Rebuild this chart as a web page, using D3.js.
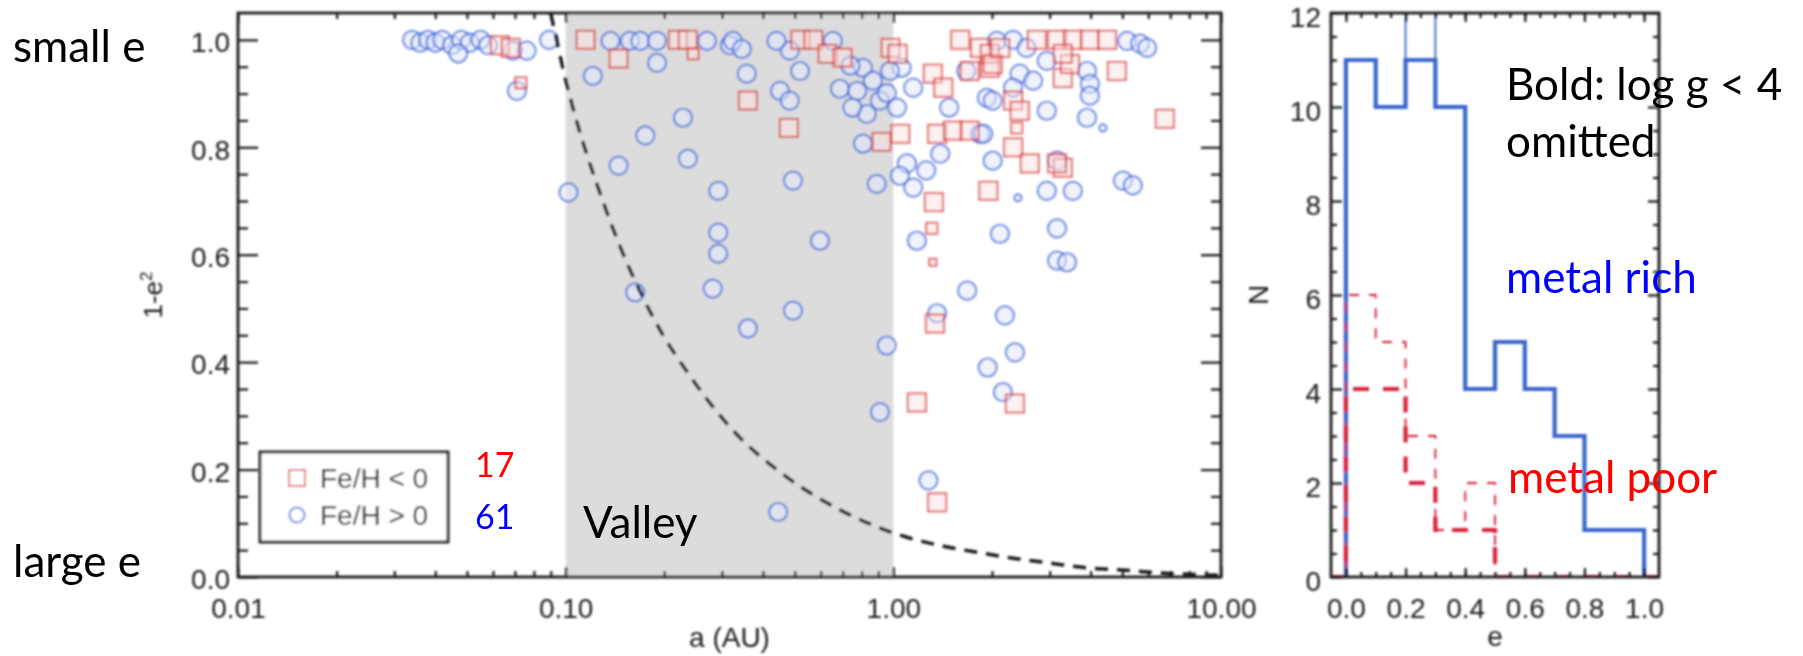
<!DOCTYPE html>
<html>
<head>
<meta charset="utf-8">
<script src="https://cdn.jsdelivr.net/npm/d3@7"></script>
<style>
  html, body { margin: 0; padding: 0; background: #fff; }
  svg { display: block; }
</style>
</head>
<body>
<svg id="chart" width="1803" height="656"></svg>
<script>
// ---------------- data ----------------
// Planets: [semi-major axis a (AU), 1 - e^2, symbol size class (1 tiny, 2 small, 3 normal)]
const metalPoorPlanets = [
  [0.063, 0.99, 3], [0.068, 0.985, 3], [0.073, 0.92, 2], [0.115, 1.0, 3], [0.145, 0.965, 3],
  [0.22, 1.0, 3], [0.236, 1.0, 3], [0.245, 0.974, 2], [0.36, 0.887, 3], [0.48, 0.836, 3],
  [0.52, 1.0, 3], [0.57, 1.0, 3], [0.63, 0.974, 3], [0.70, 0.967, 3], [0.98, 0.985, 3],
  [1.03, 0.974, 3], [1.32, 0.937, 3], [1.42, 0.911, 3], [1.05, 0.825, 3], [1.36, 0.825, 3],
  [1.52, 0.831, 3], [1.71, 0.831, 3], [0.92, 0.81, 3], [1.33, 0.698, 3], [1.95, 0.719, 3],
  [1.60, 1.0, 3], [1.84, 0.985, 3], [1.97, 0.948, 3], [1.71, 0.942, 3], [2.74, 1.0, 3],
  [3.16, 1.0, 3], [3.53, 1.0, 3], [3.98, 1.0, 3], [4.49, 1.0, 3], [1.97, 0.974, 3],
  [2.01, 0.955, 3], [3.29, 0.929, 3], [4.81, 0.942, 3], [3.46, 0.955, 3], [2.32, 0.887, 3],
  [2.43, 0.868, 3], [6.74, 0.853, 3], [2.38, 0.836, 2], [2.32, 0.80, 3], [2.61, 0.770, 3],
  [3.29, 0.762, 3], [3.16, 0.77, 3], [3.29, 0.974, 3], [2.12, 0.985, 3], [1.31, 0.649, 2],
  [1.32, 0.586, 1], [1.34, 0.472, 3], [2.35, 0.323, 3], [1.18, 0.325, 3], [1.36, 0.139, 3]
];
const metalRichPlanets = [
  [0.034, 1.0, 3], [0.036, 0.995, 3], [0.038, 1.0, 3], [0.040, 0.995, 3], [0.042, 1.0, 3],
  [0.045, 0.99, 3], [0.048, 1.0, 3], [0.051, 0.995, 3], [0.055, 1.0, 3], [0.058, 0.99, 3],
  [0.047, 0.975, 3], [0.069, 0.98, 3], [0.076, 0.98, 3], [0.071, 0.905, 3], [0.089, 1.0, 3],
  [0.102, 0.716, 3], [0.121, 0.933, 3], [0.137, 0.998, 3], [0.157, 0.998, 3], [0.169, 0.998, 3],
  [0.190, 0.998, 3], [0.190, 0.957, 3], [0.270, 0.998, 3], [0.317, 0.99, 3], [0.324, 0.998, 3],
  [0.345, 0.983, 3], [0.357, 0.937, 3], [0.228, 0.855, 3], [0.175, 0.822, 3], [0.145, 0.766, 3],
  [0.236, 0.779, 3], [0.292, 0.719, 3], [0.483, 0.98, 3], [0.451, 0.905, 3], [0.483, 0.887, 3],
  [0.494, 0.738, 3], [0.292, 0.641, 3], [0.292, 0.602, 3], [0.281, 0.537, 3], [0.597, 0.626, 3],
  [0.163, 0.530, 3], [0.494, 0.496, 3], [0.360, 0.463, 3], [0.955, 0.431, 3], [0.910, 0.307, 3],
  [0.445, 0.121, 3], [0.654, 0.998, 3], [0.519, 0.942, 3], [0.687, 0.909, 3], [0.808, 0.948, 3],
  [0.776, 0.905, 3], [0.866, 0.924, 3], [0.910, 0.887, 3], [0.83, 0.862, 3], [0.75, 0.874, 3],
  [0.955, 0.901, 3], [1.026, 0.874, 3], [1.06, 0.948, 3], [1.15, 0.911, 3], [0.977, 0.942, 3],
  [0.808, 0.807, 3], [1.10, 0.770, 3], [1.047, 0.747, 3], [1.26, 0.757, 3], [1.15, 0.725, 3],
  [0.89, 0.732, 3], [1.39, 0.788, 3], [1.48, 0.874, 3], [1.84, 0.825, 3], [2.01, 0.775, 3],
  [2.07, 0.998, 3], [1.67, 0.942, 3], [1.93, 0.892, 3], [0.74, 0.952, 3], [2.32, 1.0, 3],
  [5.17, 0.998, 3], [5.66, 0.993, 3], [5.95, 0.985, 3], [2.43, 0.937, 3], [2.67, 0.924, 3],
  [3.90, 0.942, 3], [3.98, 0.918, 3], [2.94, 0.961, 3], [3.98, 0.896, 3], [2.01, 0.887, 3],
  [2.94, 0.868, 3], [3.90, 0.855, 3], [4.36, 0.836, 1], [1.88, 0.825, 3], [2.94, 0.719, 3],
  [3.53, 0.719, 3], [2.40, 0.706, 1], [5.02, 0.738, 3], [5.38, 0.729, 3], [3.16, 0.775, 3],
  [2.32, 0.911, 3], [2.55, 0.985, 3], [1.18, 0.626, 3], [2.115, 0.639, 3], [3.16, 0.649, 3],
  [3.16, 0.589, 3], [3.39, 0.586, 3], [1.68, 0.533, 3], [1.36, 0.491, 3], [2.19, 0.487, 3],
  [2.35, 0.418, 3], [1.94, 0.390, 3], [2.16, 0.344, 3], [1.28, 0.180, 3], [0.44, 0.998, 3]
];

// Dashed boundary: [a (AU), 1 - e^2]
const boundaryCurve = [
  [0.090, 1.05], [0.100, 0.926], [0.134, 0.677], [0.185, 0.483], [0.245, 0.366],
  [0.324, 0.273], [0.473, 0.186], [0.687, 0.125], [0.950, 0.087], [1.10, 0.074],
  [1.46, 0.056], [1.84, 0.045], [2.32, 0.035], [3.0, 0.026], [3.9, 0.017],
  [5.0, 0.013], [6.6, 0.0074], [10.0, 0.003]
];
const valleyRange = [0.1, 1.0];

// Eccentricity histograms, bins of width 0.1
const eccBinEdges = [0.0, 0.1, 0.2, 0.3, 0.4, 0.5, 0.6, 0.7, 0.8, 0.9, 1.0];
const richBoldCounts = [11, 10, 11, 10, 4, 5, 4, 3, 1, 1];
const richAllCounts  = [11, 10, 12, 10, 4, 5, 4, 3, 1, 1];
const poorBoldCounts = [4, 4, 2, 1, 1, 0, 0, 0, 0, 0];
const poorAllCounts  = [6, 5, 3, 1, 2, 0, 0, 0, 0, 0];

// Axis tick values and labels
const aMajorTicks = [0.01, 0.1, 1, 10];
const oneMinusE2Ticks = [0.0, 0.2, 0.4, 0.6, 0.8, 1.0];
const eccTicks = [0.0, 0.2, 0.4, 0.6, 0.8, 1.0];
const countTicks = [0, 2, 4, 6, 8, 10, 12];
const legendLabels = ["Fe/H < 0", "Fe/H > 0"];
const sampleCounts = ["17", "61"];

// ---------------- layout ----------------
const svg = d3.select("#chart");
const scatterBox = { left: 238, right: 1221, top: 13, bottom: 577 };
const histBox = { left: 1331, right: 1659, top: 13, bottom: 577 };

const RED = "rgba(212,35,35,0.62)";
const RED_FILL = "rgba(252,226,226,0.5)";
const BLUE = "rgba(40,85,215,0.66)";
const BLUE_FILL = "rgba(226,234,252,0.55)";
const TICK_FONT = "'Liberation Sans', Arial, Helvetica, sans-serif";
const NOTE_FONT = "Lato, 'Open Sans', sans-serif";
const INK = "#1a1a1a";

const defs = svg.append("defs");
defs.append("filter").attr("id", "soft")
  .append("feGaussianBlur").attr("stdDeviation", 0.85);
defs.append("clipPath").attr("id", "clipScatter").append("rect")
  .attr("x", scatterBox.left).attr("y", scatterBox.top)
  .attr("width", scatterBox.right - scatterBox.left)
  .attr("height", scatterBox.bottom - scatterBox.top);
defs.append("clipPath").attr("id", "clipHist").append("rect")
  .attr("x", histBox.left).attr("y", histBox.top)
  .attr("width", histBox.right - histBox.left)
  .attr("height", histBox.bottom - histBox.top);

// ---------------- scales ----------------
const x = d3.scaleLog().domain([0.01, 10]).range([scatterBox.left, scatterBox.right]);
const y = d3.scaleLinear().domain([0, 1.05]).range([scatterBox.bottom, scatterBox.top]);
const hx = d3.scaleLinear().domain([-0.05, 1.05]).range([histBox.left, histBox.right]);
const hy = d3.scaleLinear().domain([0, 12]).range([histBox.bottom, histBox.top]);
const symbolHalf = d3.scaleOrdinal().domain([1, 2, 3]).range([3.5, 5.5, 9]);

const chart = svg.append("g").attr("filter", "url(#soft)");

// ---------------- scatter panel ----------------
const sp = chart.append("g");
const plotArea = sp.append("g").attr("clip-path", "url(#clipScatter)");

// shaded valley
plotArea.append("rect")
  .attr("x", x(valleyRange[0])).attr("y", scatterBox.top)
  .attr("width", x(valleyRange[1]) - x(valleyRange[0]))
  .attr("height", scatterBox.bottom - scatterBox.top)
  .attr("fill", "#dcdcdc");

// metal-rich circles
plotArea.append("g").selectAll("circle").data(metalRichPlanets).join("circle")
  .attr("cx", d => x(d[0])).attr("cy", d => y(d[1]))
  .attr("r", d => symbolHalf(d[2]))
  .attr("fill", BLUE_FILL).attr("stroke", BLUE).attr("stroke-width", 2.2);

// metal-poor squares
plotArea.append("g").selectAll("rect").data(metalPoorPlanets).join("rect")
  .attr("x", d => x(d[0]) - symbolHalf(d[2])).attr("y", d => y(d[1]) - symbolHalf(d[2]))
  .attr("width", d => 2 * symbolHalf(d[2])).attr("height", d => 2 * symbolHalf(d[2]))
  .attr("fill", RED_FILL).attr("stroke", RED).attr("stroke-width", 2.2);

// dashed boundary
plotArea.append("path")
  .attr("d", d3.line().x(d => x(d[0])).y(d => y(d[1])).curve(d3.curveMonotoneX)(boundaryCurve))
  .attr("fill", "none").attr("stroke", INK).attr("stroke-width", 3.5)
  .attr("stroke-dasharray", "13,9");

// axes helpers
function styleAxis(g) {
  g.select(".domain").remove();
  g.selectAll(".tick line").attr("stroke", INK).attr("stroke-width", 2.2);
  g.selectAll(".tick text").attr("fill", INK).attr("font-family", TICK_FONT).attr("font-size", 28);
}
const aMinorTicks = [];
[0.01, 0.1, 1].forEach(dec => { for (let k = 2; k <= 9; k++) aMinorTicks.push(dec * k); });
const yMinorTicks = d3.range(1, 21).map(i => i * 0.05).filter(v => Math.abs(v * 5 - Math.round(v * 5)) > 1e-6);

sp.append("g").attr("transform", `translate(0,${scatterBox.bottom})`)
  .call(d3.axisBottom(x).tickValues(aMajorTicks).tickSize(-10).tickPadding(21).tickFormat(d3.format(".2f")))
  .call(styleAxis);
sp.append("g").attr("transform", `translate(0,${scatterBox.bottom})`)
  .call(d3.axisBottom(x).tickValues(aMinorTicks).tickSize(-6).tickFormat(""))
  .call(styleAxis);
sp.append("g").attr("transform", `translate(0,${scatterBox.top})`)
  .call(d3.axisTop(x).tickValues(aMajorTicks).tickSize(-10).tickFormat(""))
  .call(styleAxis);
sp.append("g").attr("transform", `translate(0,${scatterBox.top})`)
  .call(d3.axisTop(x).tickValues(aMinorTicks).tickSize(-6).tickFormat(""))
  .call(styleAxis);
sp.append("g").attr("transform", `translate(${scatterBox.left},0)`)
  .call(d3.axisLeft(y).tickValues(oneMinusE2Ticks).tickSize(-20).tickPadding(8).tickFormat(d3.format(".1f")))
  .call(styleAxis)
  .call(g => g.selectAll(".tick text").attr("dy", "0.42em"));
sp.append("g").attr("transform", `translate(${scatterBox.left},0)`)
  .call(d3.axisLeft(y).tickValues(yMinorTicks).tickSize(-10).tickFormat(""))
  .call(styleAxis);
sp.append("g").attr("transform", `translate(${scatterBox.right},0)`)
  .call(d3.axisRight(y).tickValues(oneMinusE2Ticks).tickSize(-20).tickFormat(""))
  .call(styleAxis);
sp.append("g").attr("transform", `translate(${scatterBox.right},0)`)
  .call(d3.axisRight(y).tickValues(yMinorTicks).tickSize(-10).tickFormat(""))
  .call(styleAxis);

sp.append("rect")
  .attr("x", scatterBox.left).attr("y", scatterBox.top)
  .attr("width", scatterBox.right - scatterBox.left).attr("height", scatterBox.bottom - scatterBox.top)
  .attr("fill", "none").attr("stroke", INK).attr("stroke-width", 2.8);

// axis titles
sp.append("text")
  .attr("x", (scatterBox.left + scatterBox.right) / 2).attr("y", 647)
  .attr("text-anchor", "middle").attr("font-family", TICK_FONT).attr("font-size", 28).attr("fill", INK)
  .text("a (AU)");
const yTitle = sp.append("text")
  .attr("transform", `translate(162,${(scatterBox.top + scatterBox.bottom) / 2}) rotate(-90)`)
  .attr("text-anchor", "middle").attr("font-family", TICK_FONT).attr("font-size", 26).attr("fill", INK);
yTitle.append("tspan").text("1-e");
yTitle.append("tspan").attr("dy", -10).attr("font-size", 17).text("2");

// legend
const legend = sp.append("g");
legend.append("rect").attr("x", 260).attr("y", 452).attr("width", 188).attr("height", 90)
  .attr("fill", "#fff").attr("stroke", INK).attr("stroke-width", 2.8);
legend.append("rect").attr("x", 289).attr("y", 470).attr("width", 16).attr("height", 16)
  .attr("fill", "none").attr("stroke", RED).attr("stroke-width", 2);
legend.append("circle").attr("cx", 297).attr("cy", 515).attr("r", 7.5)
  .attr("fill", "none").attr("stroke", BLUE).attr("stroke-width", 2);
legend.selectAll("text.lab").data(legendLabels).join("text").attr("class", "lab")
  .attr("x", 320).attr("y", (d, i) => 488 + i * 37)
  .attr("font-family", TICK_FONT).attr("font-size", 28).attr("fill", INK)
  .text(d => d);

// ---------------- histogram panel ----------------
const hp = chart.append("g");
const histArea = hp.append("g").attr("clip-path", "url(#clipHist)");

function stepPoints(counts) {
  const pts = [[hx.domain()[0], 0], [eccBinEdges[0], 0]];
  counts.forEach((c, i) => { pts.push([eccBinEdges[i], c]); pts.push([eccBinEdges[i + 1], c]); });
  pts.push([eccBinEdges[eccBinEdges.length - 1], 0], [hx.domain()[1], 0]);
  return pts;
}
const stepLine = d3.line().x(d => hx(d[0])).y(d => hy(d[1]));

histArea.append("path").attr("d", stepLine(stepPoints(richAllCounts)))
  .attr("fill", "none").attr("stroke", "#3a66cc").attr("stroke-width", 1.8);
histArea.append("path").attr("d", stepLine(stepPoints(richBoldCounts)))
  .attr("fill", "none").attr("stroke", "#3a66cc").attr("stroke-width", 4.2);
histArea.append("path").attr("d", stepLine(stepPoints(poorAllCounts)))
  .attr("fill", "none").attr("stroke", "#d8203c").attr("stroke-width", 1.9)
  .attr("stroke-dasharray", "10,10");
histArea.append("path").attr("d", stepLine(stepPoints(poorBoldCounts)))
  .attr("fill", "none").attr("stroke", "#d8203c").attr("stroke-width", 4.2)
  .attr("stroke-dasharray", "16,14");

const eccMinor = d3.range(0, 22).map(i => -0.05 + i * 0.05).filter(v => v > -0.049 && v < 1.049);
const countMinor = d3.range(0, 25).map(i => i * 0.5).filter(v => v % 2 !== 0);

hp.append("g").attr("transform", `translate(0,${histBox.bottom})`)
  .call(d3.axisBottom(hx).tickValues(eccTicks).tickSize(-9).tickPadding(21).tickFormat(d3.format(".1f")))
  .call(styleAxis);
hp.append("g").attr("transform", `translate(0,${histBox.bottom})`)
  .call(d3.axisBottom(hx).tickValues(eccMinor).tickSize(-5).tickFormat(""))
  .call(styleAxis);
hp.append("g").attr("transform", `translate(0,${histBox.top})`)
  .call(d3.axisTop(hx).tickValues(eccTicks).tickSize(-9).tickFormat(""))
  .call(styleAxis);
hp.append("g").attr("transform", `translate(0,${histBox.top})`)
  .call(d3.axisTop(hx).tickValues(eccMinor).tickSize(-5).tickFormat(""))
  .call(styleAxis);
hp.append("g").attr("transform", `translate(${histBox.left},0)`)
  .call(d3.axisLeft(hy).tickValues(countTicks).tickSize(-11).tickPadding(10).tickFormat(d3.format("d")))
  .call(styleAxis)
  .call(g => g.selectAll(".tick text").attr("dy", "0.47em"));
hp.append("g").attr("transform", `translate(${histBox.left},0)`)
  .call(d3.axisLeft(hy).tickValues(countMinor).tickSize(-6).tickFormat(""))
  .call(styleAxis);
hp.append("g").attr("transform", `translate(${histBox.right},0)`)
  .call(d3.axisRight(hy).tickValues(countTicks).tickSize(-11).tickFormat(""))
  .call(styleAxis);
hp.append("g").attr("transform", `translate(${histBox.right},0)`)
  .call(d3.axisRight(hy).tickValues(countMinor).tickSize(-6).tickFormat(""))
  .call(styleAxis);

hp.append("rect")
  .attr("x", histBox.left).attr("y", histBox.top)
  .attr("width", histBox.right - histBox.left).attr("height", histBox.bottom - histBox.top)
  .attr("fill", "none").attr("stroke", INK).attr("stroke-width", 2.8);

hp.append("text")
  .attr("x", hx(0.5)).attr("y", 646)
  .attr("text-anchor", "middle").attr("font-family", TICK_FONT).attr("font-size", 28).attr("fill", INK)
  .text("e");
hp.append("text")
  .attr("transform", `translate(1268,${(histBox.top + histBox.bottom) / 2}) rotate(-90)`)
  .attr("text-anchor", "middle").attr("font-family", TICK_FONT).attr("font-size", 28).attr("fill", INK)
  .text("N");

// ---------------- annotations ----------------
const notes = svg.append("g").attr("font-family", NOTE_FONT);
notes.append("text").attr("x", 13).attr("y", 62).attr("font-size", 44).attr("fill", "#000").text("small e");
notes.append("text").attr("x", 13).attr("y", 577).attr("font-size", 44).attr("fill", "#000").text("large e");
notes.append("text").attr("x", 475).attr("y", 477).attr("font-size", 34).attr("fill", "#ff0000").text(sampleCounts[0]);
notes.append("text").attr("x", 475).attr("y", 529).attr("font-size", 34).attr("fill", "#0000ff").text(sampleCounts[1]);
notes.append("text").attr("x", 583).attr("y", 538).attr("font-size", 44).attr("fill", "#000").text("Valley");
notes.append("text").attr("x", 1506).attr("y", 100).attr("font-size", 44).attr("fill", "#000").text("Bold: log g < 4");
notes.append("text").attr("x", 1506).attr("y", 157).attr("font-size", 44).attr("fill", "#000").text("omitted");
notes.append("text").attr("x", 1506).attr("y", 293).attr("font-size", 44).attr("fill", "#0000ff").text("metal rich");
notes.append("text").attr("x", 1508).attr("y", 493).attr("font-size", 44).attr("fill", "#ff0000").text("metal poor");
</script>
</body>
</html>
